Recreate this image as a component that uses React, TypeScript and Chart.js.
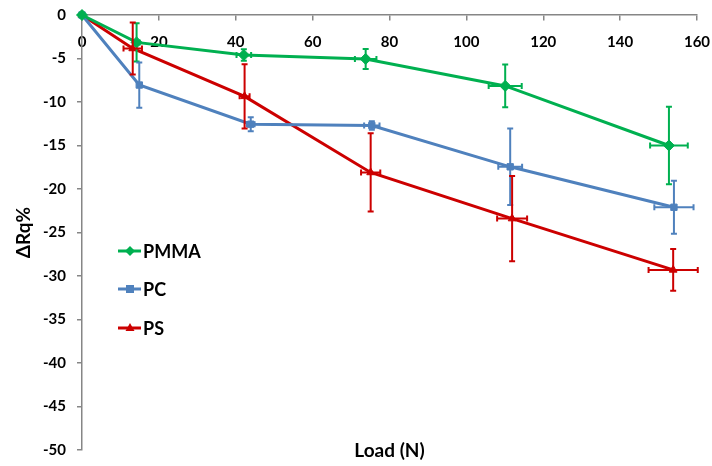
import React, { useEffect, useRef } from 'react';
import { Chart, registerables } from 'chart.js';

Chart.register(...registerables);

// ---- data ----
const seriesLabels = ['PMMA', 'PC', 'PS'];
const seriesColors = ['#00B050', '#4F81BD', '#CC0000'];
const seriesMarkers = ['rectRot', 'rect', 'triangle'];

const pmmaLoad = [0, 14.2, 42.1, 73.8, 110.1, 152.7];
const pmmaRq = [0, -3.15, -4.6, -5.05, -8.15, -15.0];
const pmmaLoadErr = [0, 0.8, 1.9, 2.8, 4.3, 4.9];
const pmmaRqErr = [0, 2.2, 0.65, 1.15, 2.45, 4.45];

const pcLoad = [0, 14.9, 43.9, 75.4, 111.4, 154.0];
const pcRq = [0, -8.05, -12.55, -12.7, -17.45, -22.1];
const pcLoadErr = [0, 0.3, 1.0, 2.0, 3.1, 5.1];
const pcRqErr = [0, 2.6, 0.8, 0.5, 4.4, 3.05];

const psLoad = [0, 13.2, 42.3, 75.1, 111.9, 153.8];
const psRq = [0, -3.85, -9.35, -18.1, -23.4, -29.3];
const psLoadErr = [0, 2.4, 1.3, 2.5, 3.9, 6.4];
const psRqErr = [0, 3.0, 3.7, 4.5, 4.9, 2.4];

const xMin = 0;
const xMax = 160;
const xStep = 20;
const yMin = -50;
const yMax = 0;
const yStep = 5;
const xTitle = 'Load (N)';
const yTitle = 'ΔRq%';

const FONT = 'Lato, "DejaVu Sans", sans-serif';
const AXIS_GRAY = '#868686';

function makeDataset(i: number, xs: number[], ys: number[], xe: number[], ye: number[]) {
  return {
    label: seriesLabels[i],
    data: xs.map((x, j) => ({ x, y: ys[j] })),
    xErr: xe,
    yErr: ye,
    borderColor: seriesColors[i],
    backgroundColor: seriesColors[i],
    pointBackgroundColor: seriesColors[i],
    pointBorderColor: seriesColors[i],
    pointStyle: seriesMarkers[i],
    pointRadius: i === 0 ? 5.5 : 4.5,
    pointBorderWidth: 1,
    borderWidth: 3,
    tension: 0,
    clip: false as const,
  };
}

function drawMarker(ctx: CanvasRenderingContext2D, style: string, cx: number, cy: number, r: number) {
  ctx.beginPath();
  if (style === 'rectRot') {
    ctx.moveTo(cx, cy - r);
    ctx.lineTo(cx + r, cy);
    ctx.lineTo(cx, cy + r);
    ctx.lineTo(cx - r, cy);
  } else if (style === 'rect') {
    ctx.rect(cx - r * 0.8, cy - r * 0.8, r * 1.6, r * 1.6);
  } else {
    ctx.moveTo(cx, cy - r);
    ctx.lineTo(cx + r * 0.9, cy + r * 0.6);
    ctx.lineTo(cx - r * 0.9, cy + r * 0.6);
  }
  ctx.closePath();
  ctx.fill();
}

const errorBarsPlugin = {
  id: 'errorBars',
  afterDatasetsDraw(chart: any) {
    const { ctx } = chart;
    const xs = chart.scales.x;
    const ys = chart.scales.y;
    const cap = 3;
    ctx.save();
    ctx.lineWidth = 2;
    ctx.lineCap = 'butt';
    chart.data.datasets.forEach((ds: any) => {
      ctx.strokeStyle = ds.borderColor;
      ds.data.forEach((pt: any, j: number) => {
        const xe = ds.xErr[j];
        const ye = ds.yErr[j];
        const px = xs.getPixelForValue(pt.x);
        const py = ys.getPixelForValue(pt.y);
        if (ye > 0) {
          const y1 = ys.getPixelForValue(pt.y + ye);
          const y2 = ys.getPixelForValue(pt.y - ye);
          ctx.beginPath();
          ctx.moveTo(px, y1);
          ctx.lineTo(px, y2);
          ctx.moveTo(px - cap, y1);
          ctx.lineTo(px + cap, y1);
          ctx.moveTo(px - cap, y2);
          ctx.lineTo(px + cap, y2);
          ctx.stroke();
        }
        if (xe > 0) {
          const x1 = xs.getPixelForValue(pt.x - xe);
          const x2 = xs.getPixelForValue(pt.x + xe);
          ctx.beginPath();
          ctx.moveTo(x1, py);
          ctx.lineTo(x2, py);
          ctx.moveTo(x1, py - cap);
          ctx.lineTo(x1, py + cap);
          ctx.moveTo(x2, py - cap);
          ctx.lineTo(x2, py + cap);
          ctx.stroke();
        }
      });
    });
    ctx.restore();
  },
};

const legendRows = [251, 289, 328];

const insideLegendPlugin = {
  id: 'insideLegend',
  afterDraw(chart: any) {
    const { ctx } = chart;
    ctx.save();
    chart.data.datasets.forEach((ds: any, i: number) => {
      const cy = legendRows[i];
      ctx.strokeStyle = ds.borderColor;
      ctx.fillStyle = ds.borderColor;
      ctx.lineWidth = 3;
      ctx.beginPath();
      ctx.moveTo(118, cy);
      ctx.lineTo(141, cy);
      ctx.stroke();
      drawMarker(ctx, ds.pointStyle, 130, cy, 5);
      ctx.fillStyle = '#000';
      ctx.font = `bold 18px ${FONT}`;
      ctx.textAlign = 'left';
      ctx.textBaseline = 'middle';
      ctx.fillText(ds.label, 143, cy + 1);
    });
    ctx.restore();
  },
};

function zeroPadding(scale: any) {
  scale.paddingTop = 0;
  scale.paddingBottom = 0;
  scale.paddingLeft = 0;
  scale.paddingRight = 0;
}

export default function App() {
  const ref = useRef<HTMLCanvasElement>(null);

  useEffect(() => {
    document.body.style.margin = '0';
    const chart = new Chart(ref.current as HTMLCanvasElement, {
      type: 'line',
      data: {
        datasets: [
          makeDataset(0, pmmaLoad, pmmaRq, pmmaLoadErr, pmmaRqErr),
          makeDataset(1, pcLoad, pcRq, pcLoadErr, pcRqErr),
          makeDataset(2, psLoad, psRq, psLoadErr, psRqErr),
        ] as any,
      },
      options: {
        animation: false,
        responsive: false,
        layout: { padding: { left: 0, top: 15, right: 15, bottom: 0 } },
        plugins: {
          legend: { display: false },
          tooltip: { enabled: false },
        },
        scales: {
          x: {
            type: 'linear',
            position: { y: 0 } as any,
            min: xMin,
            max: xMax,
            ticks: {
              stepSize: xStep,
              color: '#000',
              font: { family: FONT, size: 15, weight: 'bold' },
              padding: 13,
              maxRotation: 0,
            },
            grid: {
              drawOnChartArea: false,
              drawTicks: true,
              tickLength: 5,
              color: AXIS_GRAY,
              lineWidth: 1.5,
            },
            border: { display: true, color: AXIS_GRAY, width: 1.5 },
            afterFit: zeroPadding,
          },
          x2: {
            type: 'linear',
            position: 'bottom',
            min: xMin,
            max: xMax,
            ticks: { display: false },
            grid: { display: false },
            border: { display: false },
            title: {
              display: true,
              text: xTitle,
              color: '#000',
              font: { family: FONT, size: 19, weight: 'bold' },
              padding: { top: 0, bottom: 4 },
            },
            afterFit: (scale: any) => {
              zeroPadding(scale);
              scale.height = 16;
            },
          },
          y: {
            type: 'linear',
            position: 'left',
            min: yMin,
            max: yMax,
            ticks: {
              stepSize: yStep,
              color: '#000',
              font: { family: FONT, size: 15, weight: 'bold' },
              padding: 11,
            },
            grid: {
              drawOnChartArea: false,
              drawTicks: true,
              tickLength: 5,
              color: AXIS_GRAY,
              lineWidth: 1.5,
            },
            border: { display: true, color: AXIS_GRAY, width: 1.5 },
            title: {
              display: true,
              text: yTitle,
              color: '#000',
              font: { family: FONT, size: 19, weight: 'bold' },
              padding: { top: 12, bottom: 0 },
            },
            afterFit: (scale: any) => {
              zeroPadding(scale);
              scale.width = 82;
            },
          },
        },
      },
      plugins: [errorBarsPlugin, insideLegendPlugin],
    });
    return () => chart.destroy();
  }, []);

  return (
    <div style={{ width: 712, height: 466, position: 'relative' }}>
      <canvas ref={ref} width={712} height={466} style={{ display: 'block' }} />
    </div>
  );
}
